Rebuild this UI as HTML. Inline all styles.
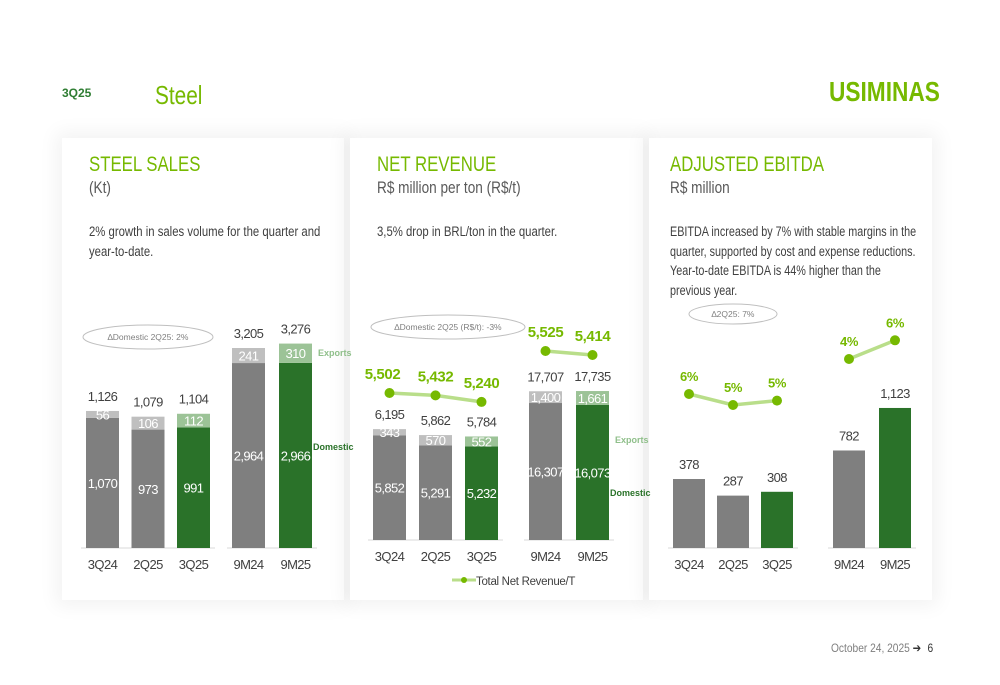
<!DOCTYPE html>
<html><head><meta charset="utf-8"><style>
body{margin:0;width:1000px;height:685px;background:#fff;font-family:"Liberation Sans",sans-serif;position:relative;overflow:hidden}
.a{position:absolute;white-space:nowrap}
.card{position:absolute;top:138px;height:462px;background:#fff;box-shadow:0 0 18px 6px rgba(0,0,0,0.05)}
.n{transform:scaleX(0.8);transform-origin:left top}
.t{position:absolute;left:27px;top:15px;font-size:21px;color:#76b900;white-space:nowrap}
.s{position:absolute;left:27px;top:40px;font-size:17px;color:#595959;white-space:nowrap}
.b{position:absolute;left:27px;top:84px;font-size:13.5px;color:#404040;line-height:19.5px;white-space:nowrap;transform:scaleX(0.84);transform-origin:left top}
svg{position:absolute;left:0;top:0}
</style></head><body>
<div class="a" style="left:62px;top:86px;font-size:12px;font-weight:bold;color:#2e7d32">3Q25</div>
<div class="a n" style="left:155px;top:80px;font-size:26px;color:#76b900">Steel</div>
<div class="a" style="left:829px;top:76px;font-size:28px;font-weight:bold;color:#76b900;transform:scaleX(0.81);transform-origin:left top">USIMINAS</div>

<div class="card" style="left:62px;width:282px">
<div class="t n">STEEL SALES</div>
<div class="s n">(Kt)</div>
<div class="b">2% growth in sales volume for the quarter and<br>year-to-date.</div>
</div>
<div class="card" style="left:350px;width:293px">
<div class="t n">NET REVENUE</div>
<div class="s n">R$ million per ton (R$/t)</div>
<div class="b">3,5% drop in BRL/ton in the quarter.</div>
</div>
<div class="card" style="left:649px;width:283px">
<div class="t n" style="left:21px">ADJUSTED EBITDA</div>
<div class="s n" style="left:21px">R$ million</div>
<div class="b" style="left:21px;transform:scaleX(0.8)">EBITDA increased by 7% with stable margins in the<br>quarter, supported by cost and expense reductions.<br>Year-to-date EBITDA is 44% higher than the<br>previous year.</div>
</div>

<div class="a" style="left:831px;top:641px;font-size:12px;color:#7f7f7f;transform:scaleX(0.85);transform-origin:left top">October 24, 2025 <span style="color:#333">➔</span> <span style="color:#333;margin-left:4px">6</span></div>

<svg id="ch" width="1000" height="685"></svg>
<script>
// Steel sales (Kt)
const salesQCats=["3Q24","2Q25","3Q25"];
const salesQDom=[1070,973,991];
const salesQExp=[56,106,112];
const salesQTot=[1126,1079,1104];
const salesYCats=["9M24","9M25"];
const salesYDom=[2964,2966];
const salesYExp=[241,310];
const salesYTot=[3205,3276];
// Net revenue (R$/t)
const revQDom=[5852,5291,5232];
const revQExp=[343,570,552];
const revQTot=[6195,5862,5784];
const revQLine=[5502,5432,5240];
const revYDom=[16307,16073];
const revYExp=[1400,1661];
const revYTot=[17707,17735];
const revYLine=[5525,5414];
// EBITDA (R$ million)
const ebQ=[378,287,308];
const ebY=[782,1123];
const ebQMargin=[5.8,4.8,5.2];
const ebQMarginLbl=["6%","5%","5%"];
const ebYMargin=[4.4,6.1];
const ebYMarginLbl=["4%","6%"];

const NS="http://www.w3.org/2000/svg";
const svg=document.getElementById('ch');
function mk(tag,at,txt){const e=document.createElementNS(NS,tag);for(const k in at)e.setAttribute(k,at[k]);if(txt!==undefined)e.textContent=txt;svg.appendChild(e);return e;}
function fmt(v){return v.toLocaleString('en-US');}
const GREY="#7f7f7f",LGREY="#bfbfbf",GREEN="#2a7229",LGREEN="#9cc397",LIME="#76b900";
const NUM={'font-size':13,'letter-spacing':'-0.6'};

function group(o){
  const y=v=>o.base-v*o.k;
  const n=o.cats.length;
  const xs=o.cats.map((c,i)=>o.x0+i*o.step);
  const bl=mk('line',{x1:xs[0]-5,x2:xs[n-1]+o.w+5,y1:o.base,y2:o.base,stroke:'#d9d9d9','stroke-width':1});
  
  
  o.cats.forEach((c,i)=>{
    const last=(i===n-1);
    const x=xs[i],cx=x+o.w/2;
    const d=o.dom[i];
    const r=mk('rect',{x:x,y:y(d),width:o.w,height:o.base-y(d),fill:last?GREEN:GREY});
    
    
    if(o.exp){
      const e=o.exp[i];
      const r2=mk('rect',{x:x,y:y(d+e),width:o.w,height:o.base-y(e),fill:last?LGREEN:LGREY});
      
      
      const t=mk('text',Object.assign({x:cx,y:y(d+e/2)+5,'text-anchor':'middle',fill:'#fff'},NUM),fmt(e));
      
      
      const t2=mk('text',Object.assign({x:cx,y:y(d/2)+5,'text-anchor':'middle',fill:'#fff'},NUM),fmt(d));
      
      
    }
    const tv=o.tot?o.tot[i]:d;
    const tt=mk('text',Object.assign({x:cx,y:y(tv)-10,'text-anchor':'middle',fill:'#404040'},NUM),fmt(tv));
    
    
    const cl=mk('text',Object.assign({x:cx,y:o.base+21,'text-anchor':'middle',fill:'#404040'},NUM),c);
    
    
  });
  if(o.line){
    const ly=v=>o.ly0-(v-o.lv0)*o.lk;
    const pts=o.line.map((v,i)=>(xs[i]+o.w/2)+','+ly(v)).join(' ');
    const pl=mk('polyline',{points:pts,fill:'none',stroke:'#b9de8a','stroke-width':3.5});
    
    
    o.line.forEach((v,i)=>{
      const cx=xs[i]+o.w/2;
      const c=mk('circle',{cx:cx,cy:ly(v),r:5,fill:LIME});
      
      
      const t=mk('text',{x:cx+(o.loff?o.loff[i]:0),y:ly(v)-(o.lup||14),'text-anchor':'middle','font-size':o.lfs||15,'letter-spacing':'-0.4','font-weight':'bold',fill:LIME},o.llbl?o.llbl[i]:fmt(v));
      
      
    });
  }
}
group({id:'sales-q',cats:salesQCats,dom:salesQDom,exp:salesQExp,tot:salesQTot,x0:86,step:45.5,w:33,base:548,k:0.1217});
group({id:'sales-y',cats:salesYCats,dom:salesYDom,exp:salesYExp,tot:salesYTot,x0:232,step:47,w:33,base:548,k:0.0624});
group({id:'rev-q',cats:salesQCats,dom:revQDom,exp:revQExp,tot:revQTot,x0:373,step:46,w:33,base:540,k:0.0179,line:revQLine,ly0:393,lv0:5502,lk:0.034,loff:[-7,0,0]});
group({id:'rev-y',cats:salesYCats,dom:revYDom,exp:revYExp,tot:revYTot,x0:529,step:47,w:33,base:540,k:0.0084,line:revYLine,ly0:351,lv0:5525,lk:0.036});
group({id:'ebitda-q',cats:salesQCats,dom:ebQ,x0:673,step:44,w:32,base:548,k:0.1825,line:ebQMargin,ly0:394,lv0:5.8,lk:11,llbl:ebQMarginLbl,lfs:13,lup:13});
group({id:'ebitda-y',cats:salesYCats,dom:ebY,x0:833,step:46,w:32,base:548,k:0.1247,line:ebYMargin,ly0:359,lv0:4.4,lk:11,llbl:ebYMarginLbl,lfs:13,lup:13});

function txt(x,y,s,at,name){const t=mk('text',Object.assign({x:x,y:y},at),s);}
txt(318,356,'Exports',{'font-size':9,'font-weight':'bold',fill:'#8fbf8a'},'exports-legend');
txt(313,450,'Domestic',{'font-size':9,'font-weight':'bold',fill:'#2a7229'},'domestic-legend');
txt(615,443,'Exports',{'font-size':9,'font-weight':'bold',fill:'#8fbf8a'},'exports-legend-rev');
txt(610,496,'Domestic',{'font-size':9,'font-weight':'bold',fill:'#2a7229'},'domestic-legend-rev');
function oval(cx,cy,rx,ry,s,name){const e=mk('ellipse',{cx:cx,cy:cy,rx:rx,ry:ry,fill:'#fff',stroke:'#bfbfbf'});txt(cx,cy+3,s,{'text-anchor':'middle','font-size':8.5,fill:'#7f7f7f'},name+'-text');}
oval(148,337,65,12,'∆Domestic 2Q25: 2%','sales-callout');
oval(448,327,77,12,'∆Domestic 2Q25 (R$/t): -3%','revenue-callout');
oval(733,314,44,10,'∆2Q25: 7%','ebitda-callout');
const lg=mk('line',{x1:452,x2:476,y1:580,y2:580,stroke:'#b9de8a','stroke-width':3});


const lc=mk('circle',{cx:464,cy:580,r:3,fill:LIME});


txt(476,585,'Total Net Revenue/T',{'font-size':11.5,'letter-spacing':'-0.3',fill:'#404040'},'legend-label');
</script>
</body></html>
